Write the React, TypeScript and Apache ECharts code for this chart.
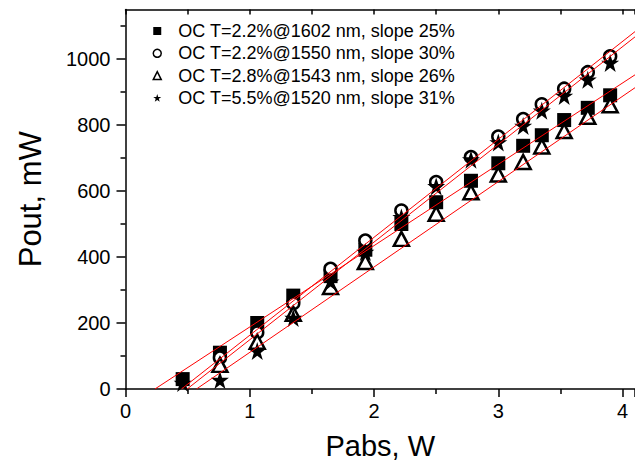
import React, { useEffect, useRef } from "react";
import * as echarts from "echarts";

const squareX = [0.46, 0.76, 1.06, 1.35, 1.65, 1.93, 2.22, 2.5, 2.78, 3.0, 3.2, 3.35, 3.53, 3.72, 3.9];
const squareY = [30, 110, 200, 283, 342, 422, 500, 566, 631, 684, 737, 769, 815, 852, 890];

const circleX = [0.76, 1.06, 1.35, 1.65, 1.93, 2.22, 2.5, 2.78, 3.0, 3.2, 3.35, 3.53, 3.72, 3.9];
const circleY = [95, 171, 260, 364, 450, 541, 627, 703, 765, 818, 863, 910, 960, 1008];

const triangleX = [0.76, 1.06, 1.35, 1.65, 1.93, 2.22, 2.5, 2.78, 3.0, 3.2, 3.35, 3.53, 3.72, 3.9];
const triangleY = [73, 143, 228, 309, 385, 455, 531, 596, 650, 688, 735, 782, 825, 860];

const starX = [0.46, 0.76, 1.06, 1.35, 1.65, 1.93, 2.22, 2.5, 2.78, 3.0, 3.2, 3.35, 3.53, 3.72, 3.9];
const starY = [18, 27, 115, 215, 325, 415, 520, 614, 695, 747, 797, 843, 888, 937, 988];

// linear-fit end points (Pabs, Pout)
const fitSquare = [[0.237, 0], [4.1, 952]];
const fitCircle = [[0.451, 0], [4.1, 1083]];
const fitTriangle = [[0.571, 0], [4.1, 913]];
const fitStar = [[0.496, 0], [4.1, 1067]];

const seriesNames = [
  "OC T=2.2%@1602 nm, slope 25%",
  "OC T=2.2%@1550 nm, slope 30%",
  "OC T=2.8%@1543 nm, slope 26%",
  "OC T=5.5%@1520 nm, slope 31%",
];

const xLabelValues = [0, 1, 2, 3, 4];
const yLabelValues = [0, 200, 400, 600, 800, 1000];

const FONT = "'Liberation Sans', Arial, sans-serif";
const STAR =
  "path://M50,0 L61.8,35.4 L100,35.4 L69.1,57.3 L80.9,95.1 L50,72.4 L19.1,95.1 L30.9,57.3 L0,35.4 L38.2,35.4 Z";

const zip = (xs: number[], ys: number[]) => xs.map((x, i) => [x, ys[i]]);

export default function App() {
  const ref = useRef<HTMLDivElement>(null);
  useEffect(() => {
    if (!ref.current) return;
    const chart = echarts.init(ref.current, undefined, { renderer: "svg" });
    const hollow = { color: "#fff", borderColor: "#000", borderWidth: 2.5, opacity: 1 };
    const fitLine = (data: number[][]) => ({
      type: "line",
      data,
      symbol: "none",
      silent: true,
      z: 5,
      lineStyle: { color: "#ff0000", width: 1 },
    });
    chart.setOption({
      animation: false,
      backgroundColor: "#fff",
      grid: { left: 125.5, top: 9.5, bottom: 74.3, right: -1.8, containLabel: false },
      legend: {
        orient: "vertical",
        left: 147.5,
        top: 17,
        itemWidth: 8,
        itemHeight: 8,
        itemGap: 4.3,
        textStyle: { fontSize: 18, fontFamily: FONT, color: "#000", padding: [0, 0, 0, 12] },
        data: [
          { name: seriesNames[0], icon: "rect" },
          { name: seriesNames[1], icon: "circle", itemStyle: { borderWidth: 1.5 } },
          { name: seriesNames[2], icon: "triangle", itemStyle: { borderWidth: 1.5 } },
          { name: seriesNames[3], icon: STAR },
        ],
      },
      xAxis: [
        {
          type: "value",
          min: 0,
          max: 4.1,
          interval: 1,
          name: "Pabs, W",
          nameLocation: "middle",
          nameGap: 42,
          nameTextStyle: { fontSize: 29, fontFamily: FONT, color: "#000" },
          axisLine: { show: true, lineStyle: { color: "#000", width: 1.5 } },
          axisTick: { show: true, inside: false, length: 8, lineStyle: { color: "#000", width: 1.5 } },
          minorTick: { show: true, splitNumber: 2, length: 5, lineStyle: { color: "#000", width: 1.5 } },
          axisLabel: {
            customValues: xLabelValues,
            formatter: (v: number) => String(v),
            fontSize: 20,
            fontFamily: FONT,
            color: "#000",
            margin: 12,
          },
          splitLine: { show: false },
        },
        {
          type: "value",
          position: "top",
          min: 0,
          max: 4.1,
          interval: 0.5,
          axisLine: { show: true, onZero: false, lineStyle: { color: "#000", width: 1.5 } },
          axisTick: { show: true, inside: true, length: 5, lineStyle: { color: "#000", width: 1.5 } },
          axisLabel: { show: false },
          splitLine: { show: false },
        },
      ],
      yAxis: {
        type: "value",
        min: 0,
        max: 1150,
        interval: 200,
        name: "Pout, mW",
        nameLocation: "middle",
        nameGap: 80,
        nameTextStyle: { fontSize: 31, fontFamily: FONT, color: "#000" },
        axisLine: { show: true, lineStyle: { color: "#000", width: 1.5 } },
        axisTick: { show: true, customValues: yLabelValues, length: 9, lineStyle: { color: "#000", width: 1.5 } },
        minorTick: { show: true, splitNumber: 2, length: 5, lineStyle: { color: "#000", width: 1.5 } },
        axisLabel: {
          customValues: yLabelValues,
          formatter: (v: number) => String(v),
          fontSize: 20,
          fontFamily: FONT,
          color: "#000",
          margin: 15,
        },
        splitLine: { show: false },
      },
      series: [
        {
          name: seriesNames[0],
          type: "scatter",
          data: zip(squareX, squareY),
          symbol: "rect",
          symbolSize: 14,
          itemStyle: { color: "#000", opacity: 1 },
          z: 2,
        },
        {
          name: seriesNames[1],
          type: "scatter",
          data: zip(circleX, circleY),
          symbol: "circle",
          symbolSize: 12,
          itemStyle: hollow,
          z: 2,
        },
        {
          name: seriesNames[2],
          type: "scatter",
          data: zip(triangleX, triangleY),
          symbol: "triangle",
          symbolSize: [15, 14],
          itemStyle: hollow,
          z: 2,
        },
        {
          name: seriesNames[3],
          type: "scatter",
          data: zip(starX, starY),
          symbol: STAR,
          symbolSize: 18,
          itemStyle: { color: "#000", opacity: 1 },
          z: 2,
        },
        fitLine(fitSquare),
        fitLine(fitCircle),
        fitLine(fitTriangle),
        fitLine(fitStar),
      ],
    });
    return () => chart.dispose();
  }, []);
  return (
    <div
      ref={ref}
      style={{ position: "fixed", left: 0, top: 0, width: 635, height: 465, background: "#fff" }}
    />
  );
}
